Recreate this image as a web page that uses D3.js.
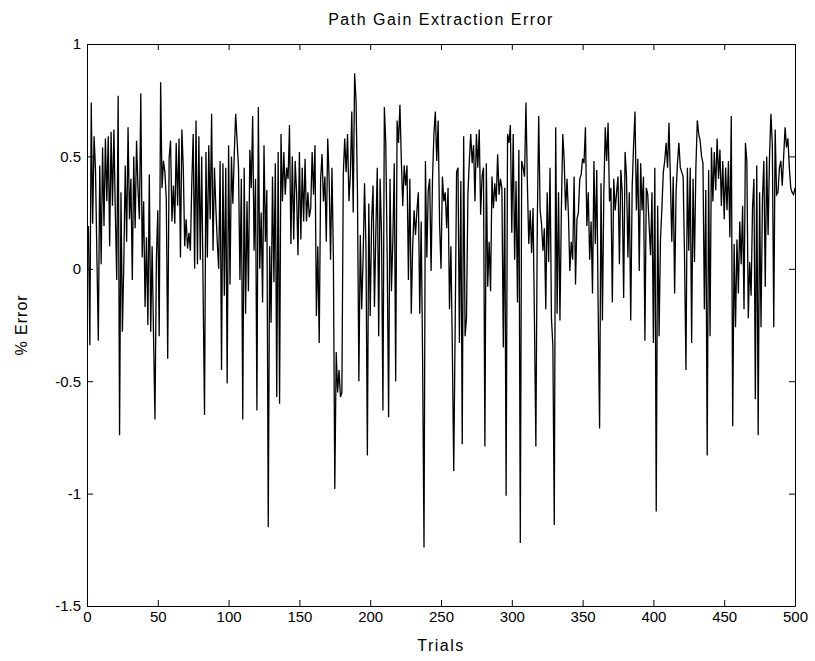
<!DOCTYPE html>
<html>
<head>
<meta charset="utf-8">
<script src="https://cdn.jsdelivr.net/npm/d3@7"></script>
<style>
  body { margin: 0; background: #fff; }
  text { font-family: "Liberation Sans", Arial, sans-serif; fill: #000; }
</style>
</head>
<body>
<svg width="815" height="661"></svg>
<script>
// percent error per trial (trials 1..500)
const errors = [
  0.19,-0.34,0.74,0.20,0.59,0.44,0.05,-0.32,0.46,0.02, 0.54,0.19,0.58,0.30,0.59,0.10,0.61,0.28,0.62,0.25,
  -0.05,0.77,-0.74,0.34,-0.28,0.03,0.46,0.12,0.63,0.22, 0.40,-0.05,0.50,0.18,0.57,0.36,0.22,0.78,0.05,0.30,
  -0.17,0.14,-0.25,0.42,-0.28,0.10,-0.30,-0.67,0.04,0.26,
  -0.30,0.83,0.36,0.48,0.43,0.31,-0.40,0.49,0.57,0.21, 0.37,0.20,0.56,0.28,0.58,0.05,0.62,0.45,0.10,0.22,
  0.09,0.16,0.08,0.38,0.60,0.00,0.66,0.02,0.59,0.04, 0.50,-0.10,-0.65,0.52,0.05,0.55,0.22,0.69,0.08,0.45,
  0.27,0.12,0.00,0.48,-0.45,0.47,-0.12,0.45,-0.51,0.55,
  -0.07,0.50,0.29,0.51,0.69,0.57,0.45,-0.05,0.40,-0.67, 0.45,-0.20,0.30,-0.10,0.53,0.36,0.68,0.08,0.40,-0.63,
  0.72,0.00,0.25,-0.15,0.55,0.12,0.35,-1.15,0.10,-0.24, 0.41,-0.06,0.47,-0.57,0.52,-0.60,0.60,0.30,0.52,0.33,
  0.45,0.40,0.64,0.11,0.50,0.13,0.48,0.34,0.06,0.52,
  0.13,0.45,0.21,0.49,0.21,0.34,0.23,0.27,0.52,0.33, 0.55,-0.21,0.10,-0.33,0.40,0.51,0.30,0.41,0.12,0.58,
  0.40,0.04,0.45,0.05,-0.98,-0.37,-0.55,-0.45,-0.57,-0.55, 0.42,0.58,0.43,0.60,0.30,0.42,0.70,0.25,0.87,0.75,
  0.34,-0.50,0.15,-0.18,0.05,0.38,0.10,-0.83,0.29,-0.21,
  0.21,0.37,-0.17,0.17,0.45,-0.30,0.40,0.15,-0.63,0.72, 0.56,0.05,-0.66,0.40,-0.10,0.13,0.47,-0.50,0.66,0.56,
  0.73,0.48,0.28,0.46,0.37,0.46,-0.05,0.40,-0.20,0.10, 0.26,0.15,0.26,0.34,-0.20,0.21,-0.40,-1.24,0.48,0.05,
  0.35,0.40,-0.01,0.40,0.60,0.70,0.48,0.66,0.20,0.00,
  0.41,0.30,0.34,0.18,0.36,-0.18,0.10,-0.35,-0.90,-0.26, 0.43,0.45,-0.33,0.39,-0.78,0.59,-0.30,-0.22,0.33,0.48,
  0.60,0.47,0.55,0.30,0.60,0.45,0.62,0.24,0.41,0.45, -0.79,0.47,-0.08,0.12,-0.10,0.41,0.27,0.38,0.30,0.51,
  0.33,0.40,0.36,-0.35,0.36,-1.01,0.60,0.56,0.64,0.16,
  0.60,0.04,0.39,-0.15,0.53,-1.22,0.48,0.45,0.41,0.74, 0.38,0.11,0.26,0.07,0.27,-0.23,-0.79,0.20,0.68,0.26,
  0.20,0.08,0.18,-0.18,0.34,0.03,0.45,-0.22,-0.34,-1.14, 0.63,-0.20,0.34,-0.23,0.26,0.60,0.48,0.26,0.40,0.24,
  -0.01,0.12,0.04,0.41,-0.07,0.22,0.25,0.40,0.42,0.49,
  0.47,0.63,0.19,0.34,0.04,0.21,-0.11,0.48,0.11,0.44, -0.18,-0.71,0.38,-0.23,0.34,0.63,0.48,0.65,0.30,0.36,
  -0.15,0.40,0.26,0.34,0.41,0.02,0.44,0.34,-0.13,0.52, 0.41,0.05,0.34,-0.23,0.36,0.55,0.70,0.26,0.49,-0.01,
  0.47,0.26,0.41,-0.32,0.36,0.33,0.19,0.06,0.34,-0.33,
  0.45,-1.08,0.28,-0.30,0.13,0.27,0.43,0.48,0.56,0.45, 0.65,0.40,0.12,0.41,-0.11,0.34,0.47,0.56,0.45,0.43,
  0.41,0.05,-0.45,0.45,0.08,0.45,-0.33,0.40,0.03,0.45, 0.66,0.60,0.57,0.50,0.47,-0.18,0.35,-0.83,0.44,-0.30,
  0.54,0.30,0.52,0.35,0.58,0.40,0.53,0.28,0.48,0.22,
  0.45,0.26,0.48,0.14,0.68,-0.70,0.11,-0.26,0.13,-0.11, 0.21,0.02,0.28,-0.18,0.56,0.48,-0.22,0.03,-0.12,0.27,
  0.40,-0.58,0.46,-0.74,0.34,-0.26,0.31,0.48,-0.08,0.50, 0.15,0.50,0.69,0.55,-0.26,0.62,0.33,0.34,0.45,0.48,
  0.37,0.50,0.63,0.54,0.58,0.45,0.36,0.34,0.33,0.36
];
const trials = errors.map((d, i) => i + 1);
const xTicks = [0, 50, 100, 150, 200, 250, 300, 350, 400, 450, 500];
const yTicks = [-1.5, -1, -0.5, 0, 0.5, 1];

const svg = d3.select("svg");
const plotL = 87, plotR = 795, plotT = 44, plotB = 606;

const x = d3.scaleLinear().domain([0, 500]).range([plotL, plotR]);
const y = d3.scaleLinear().domain([-1.5, 1]).range([plotB, plotT]);

// data line
svg.append("path")
    .datum(trials)
    .attr("fill", "none")
    .attr("stroke", "#000")
    .attr("stroke-width", 1.3)
    .attr("d", d3.line().x(d => x(d)).y((d, i) => y(errors[i])));

// axes, ticks pointing inward on all four sides
const fmt = d => String(d);
function styleAxis(g) {
    g.selectAll("text").style("font-size", "15px").style("font-family", "'Liberation Sans', Arial, sans-serif");
    g.selectAll("path, line").attr("stroke", "#000");
}

svg.append("g").attr("transform", `translate(0,${plotB})`)
    .call(d3.axisBottom(x).tickValues(xTicks).tickFormat(fmt).tickSizeInner(-6).tickSizeOuter(0).tickPadding(5))
    .call(styleAxis);
svg.append("g").attr("transform", `translate(0,${plotT})`)
    .call(d3.axisTop(x).tickValues(xTicks).tickFormat("").tickSizeInner(-6).tickSizeOuter(0))
    .call(styleAxis);
svg.append("g").attr("transform", `translate(${plotL},0)`)
    .call(d3.axisLeft(y).tickValues(yTicks).tickFormat(fmt).tickSizeInner(-6).tickSizeOuter(0).tickPadding(6))
    .call(styleAxis);
svg.append("g").attr("transform", `translate(${plotR},0)`)
    .call(d3.axisRight(y).tickValues(yTicks).tickFormat("").tickSizeInner(-6).tickSizeOuter(0))
    .call(styleAxis);

svg.append("text")
    .attr("x", (plotL + plotR) / 2).attr("y", 25)
    .attr("text-anchor", "middle").style("font-size", "16px").style("letter-spacing", "1.5px")
    .text("Path Gain Extraction Error");

svg.append("text")
    .attr("x", (plotL + plotR) / 2).attr("y", 651)
    .attr("text-anchor", "middle").style("font-size", "16px").style("letter-spacing", "1.5px")
    .text("Trials");

svg.append("text")
    .attr("transform", `translate(27,${(plotT + plotB) / 2}) rotate(-90)`)
    .attr("text-anchor", "middle").style("font-size", "16px").style("letter-spacing", "1px")
    .text("% Error");
</script>
</body>
</html>
